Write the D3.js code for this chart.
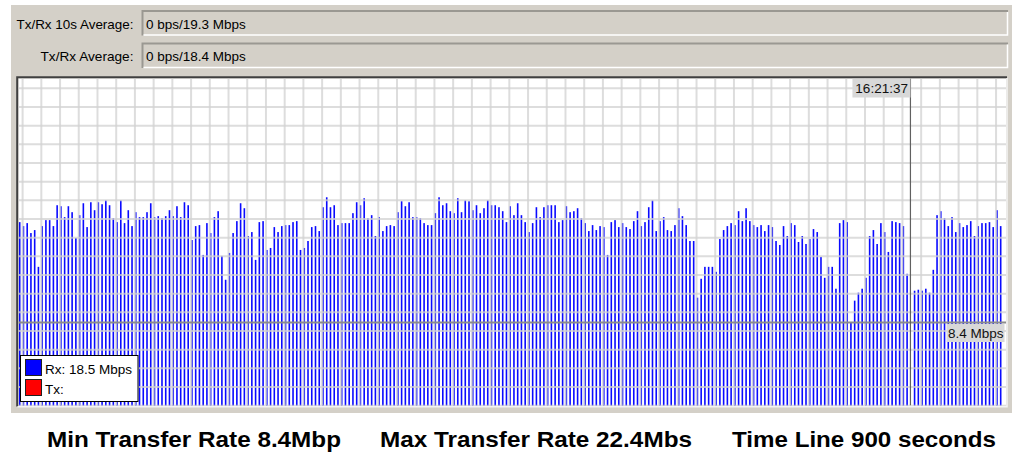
<!DOCTYPE html>
<html>
  <head>
    <meta charset="utf-8" />
    <title>Rx traffic graph</title>
    <script src="https://d3js.org/d3.v7.min.js"></script>
    <style>
      body { margin: 0; background: #fff; }
      text { font-family: "Liberation Sans", Arial, sans-serif; }
    </style>
  </head>
  <body>
    <svg id="chart" width="1016" height="454"></svg>

    <script>
      // Valores (Mbps por muestra, null = hueco bajo el cursor)
      const rxMbps = [
        18.5, 18.1, 18.4, 17.4, 17.7, 14.0, 18.1, 18.7, 18.7, 18.1,
        20.2, 20.1, 19.0, 20.1, 19.5, 16.9, 19.2, 20.4, 18.0, 20.5,
        19.7, 20.5, 20.3, 20.7, 20.2, 18.9, 18.5, 20.7, 18.4, 19.7,
        18.1, 19.5, 19.0, 19.0, 19.5, 20.4, 19.0, 19.1, 18.9, 19.1,
        19.7, 19.1, 20.1, 19.0, 20.5, 20.2, 16.7, 18.1, 18.2, 15.2,
        18.4, 17.4, 19.0, 19.6, 15.1, 12.7, 15.4, 17.4, 18.6, 20.4,
        19.9, 17.1, 17.5, 14.7, 18.5, 18.6, 15.7, 15.9, 18.0, 17.5,
        18.1, 18.2, 18.2, 18.5, 18.6, 15.7, 15.9, 16.6, 18.0, 18.1,
        17.6, 20.0, 21.0, 20.0, 20.2, 18.2,
        18.4, 18.4, 18.4, 19.4, 20.5, 20.2, 20.9, 18.9, 19.2, 17.1,
        19.0, 17.6, 18.1, 18.2, 18.1, 19.5, 20.6, 20.1, 20.5, 19.0,
        19.0, 18.9, 18.4, 18.2, 18.2, 19.4, 21.0, 20.2, 20.4, 19.6,
        19.4, 20.9, 19.5, 20.7, 20.6, 19.7, 20.2, 19.4, 19.9, 20.7,
        20.2, 20.2, 20.0, 19.6, 18.5, 20.1, 19.2, 20.4, 19.2, 18.5,
        17.5, 18.4, 20.0, 19.0, 20.0, 20.2, 20.2, 20.2, 18.5, 18.7,
        20.1, 19.5, 19.6, 19.9, 18.9, 18.4, 17.6, 18.2, 17.7, 18.1,
        18.0, 15.2, 18.5, 18.7, 18.0, 18.4, 18.0, 17.8, 18.6, 19.6,
        18.1, 18.5, 20.0, 20.7, 17.6, 18.6, 19.0, 17.7,
        17.6, 18.2, 19.9, 19.1, 18.2, 16.6, 16.6, 10.9, 12.8, 14.0,
        14.0, 14.0, 13.5, 16.8, 17.7, 18.1, 18.4, 18.2, 19.6, 18.6,
        19.9, 18.6, 18.2, 18.0, 18.2, 17.6, 18.2, 18.0, 16.6, 16.2,
        18.1, 17.1, 18.4, 18.2, 16.5, 17.1, 16.3, 16.8, 17.8, 17.5,
        15.0, 12.9, 14.0, 14.0, 11.8, 18.4, 18.7, 18.5, 8.4, 10.6,
        11.4, 11.8, 12.9, 17.1, 17.7, 16.3, 18.4, 17.5, 15.5, 18.6,
        18.5, 18.4, 18.1, 13.3, null, 11.6, 11.7, 11.6, 11.8, 11.4,
        13.7, 19.2, 19.6, 18.9, 18.1, 19.0, 17.5, 18.4, 18.0, 18.2,
        18.6, 17.1, 18.1, 18.4, 18.4, 18.5, 18.0, 19.7, 18.1
      ];
      const fieldLabels = ["Tx/Rx 10s Average:", "Tx/Rx Average:"];
      const fieldValues = ["0 bps/19.3 Mbps", "0 bps/18.4 Mbps"];
      const cursorIndex = 238;
      const cursorTime = "16:21:37";
      const minLine = 8.4;
      const minLineLabel = "8.4 Mbps";
      const legendNames = ["Rx: 18.5 Mbps", "Tx:"];
      const legendColors = ["#0000ff", "#ff0000"];
      const captions = ["Min Transfer Rate 8.4Mbp", "Max Transfer Rate 22.4Mbs", "Time Line 900 seconds"];

      // posiciones y anchos de los textos de abajo (solo maquetación)
      const captionX = [47, 380, 732];
      const captionW = [294, 312, 264];
      const labelW = [117, 93];

      const svg = d3.select("#chart");
      const plot = { left: 18.5, right: 1006, top: 78.5, bottom: 405.5 };

      // Fondo gris de la ventana
      svg.append("rect")
        .attr("x", 11).attr("y", 5).attr("width", 1001).attr("height", 408)
        .attr("fill", "#d4d0c8");

      // Campos de texto de arriba
      fieldLabels.forEach((lab, i) => {
        const y0 = 11 + i * 32.5;
        const g = svg.append("g");
        g.append("rect").attr("x", 142.5).attr("y", y0).attr("width", 865.5).attr("height", 24.5)
          .attr("fill", "#d4d0c8");
        g.append("path").attr("d", `M142.5,${y0 + 24.5}V${y0}H1008`)
          .attr("fill", "none").attr("stroke", "#9a9892").attr("stroke-width", 2);
        g.append("path").attr("d", `M143.5,${y0 + 24}H1007.5V${y0 + 1}`)
          .attr("fill", "none").attr("stroke", "#ffffff").attr("stroke-width", 1.5);
        g.append("text").attr("x", 133.5).attr("y", y0 + 17.5)
          .attr("text-anchor", "end").attr("font-size", "13.5px").attr("fill", "#000")
          .attr("textLength", labelW[i]).attr("lengthAdjust", "spacingAndGlyphs")
          .text(lab);
        g.append("text").attr("x", 146).attr("y", y0 + 17.5)
          .attr("font-size", "13.5px").attr("fill", "#000")
          .text(fieldValues[i]);
      });

      // Marco hundido del gráfico
      svg.append("rect")
        .attr("x", plot.left).attr("y", plot.top)
        .attr("width", plot.right - plot.left).attr("height", plot.bottom - plot.top)
        .attr("fill", "#ffffff");
      svg.append("path").attr("d", `M17.2,${plot.bottom + 1}V77.2H1007`)
        .attr("fill", "none").attr("stroke", "#404040").attr("stroke-width", 2);
      svg.append("path").attr("d", `M17.5,406.8H1007V78`)
        .attr("fill", "none").attr("stroke", "#f4f4f4").attr("stroke-width", 1.5);

      // Escalas
      const x = d3.scaleLinear().domain([0, rxMbps.length - 1]).range([19.3, 1000.3]);
      const y = d3.scaleLinear().domain([0, 33]).range([406, 78]);

      svg.append("defs").append("clipPath").attr("id", "plotclip")
        .append("rect")
        .attr("x", plot.left).attr("y", plot.top)
        .attr("width", plot.right - plot.left).attr("height", plot.bottom - plot.top);

      const inner = svg.append("g").attr("clip-path", "url(#plotclip)");

      // Barras Rx
      inner.append("g")
        .selectAll("rect")
        .data(rxMbps.map((v, i) => ({ v, i })).filter((d) => d.v !== null))
        .join("rect")
        .attr("x", (d) => x(d.i) - 0.4)
        .attr("width", 1.6)
        .attr("y", (d) => y(d.v))
        .attr("height", (d) => y(0) - y(d.v) + 1)
        .attr("fill", "#0a0aff");

      // Rejilla
      const gridX = d3.range(22.6, plot.right, 18.72);
      const gridY = d3.range(plot.bottom + 0.2, plot.top, -18.67);
      inner.append("g")
        .selectAll("line")
        .data(gridX)
        .join("line")
        .attr("x1", (d) => d).attr("x2", (d) => d)
        .attr("y1", plot.top).attr("y2", plot.bottom)
        .attr("stroke", "#d2d2d2").attr("stroke-opacity", 0.75).attr("stroke-width", 2);
      inner.append("g")
        .selectAll("line")
        .data(gridY)
        .join("line")
        .attr("x1", plot.left).attr("x2", plot.right)
        .attr("y1", (d) => d).attr("y2", (d) => d)
        .attr("stroke", "#d2d2d2").attr("stroke-opacity", 0.75).attr("stroke-width", 2);

      // Línea de mínimo
      inner.append("line")
        .attr("x1", plot.left).attr("x2", plot.right)
        .attr("y1", y(minLine)).attr("y2", y(minLine))
        .attr("stroke", "#8c8c8c").attr("stroke-width", 2);

      // Cursor de tiempo
      inner.append("line")
        .attr("x1", x(cursorIndex)).attr("x2", x(cursorIndex))
        .attr("y1", plot.top).attr("y2", plot.bottom)
        .attr("stroke", "#606060").attr("stroke-width", 1.2);

      const timeLab = inner.append("g");
      timeLab.append("rect")
        .attr("x", x(cursorIndex) - 58).attr("y", plot.top)
        .attr("width", 58).attr("height", 19)
        .attr("fill", "#d8d8d8");
      timeLab.append("text")
        .attr("x", x(cursorIndex) - 2.5).attr("y", plot.top + 14.5)
        .attr("text-anchor", "end").attr("font-size", "13.5px").attr("fill", "#111")
        .text(cursorTime);

      const minLab = inner.append("g");
      minLab.append("rect")
        .attr("x", 946.5).attr("y", y(minLine) + 1.5)
        .attr("width", 58).attr("height", 18)
        .attr("fill", "#d8d8d8");
      minLab.append("text")
        .attr("x", 1003.5).attr("y", y(minLine) + 15)
        .attr("text-anchor", "end").attr("font-size", "13.5px").attr("fill", "#111")
        .text(minLineLabel);

      // Leyenda
      const legend = svg.append("g");
      legend.append("rect")
        .attr("x", 20.5).attr("y", 355.5).attr("width", 117.5).attr("height", 46)
        .attr("fill", "#fff").attr("stroke", "#000").attr("stroke-width", 1);
      legendNames.forEach((name, i) => {
        legend.append("rect")
          .attr("x", 25.5).attr("y", 359.5 + i * 20).attr("width", 16).attr("height", 16)
          .attr("fill", legendColors[i]).attr("stroke", "#202020").attr("stroke-width", 1);
        legend.append("text")
          .attr("x", 45).attr("y", 373.5 + i * 20)
          .attr("font-size", "13.5px").attr("fill", "#000")
          .text(name);
      });

      // Textos inferiores
      svg.selectAll("text.caption")
        .data(captions)
        .join("text")
        .attr("class", "caption")
        .attr("x", (d, i) => captionX[i])
        .attr("y", 447)
        .attr("font-size", "22px")
        .attr("font-weight", "bold")
        .attr("fill", "#000")
        .attr("textLength", (d, i) => captionW[i])
        .attr("lengthAdjust", "spacingAndGlyphs")
        .text((d) => d);
    </script>
  </body>
</html>
